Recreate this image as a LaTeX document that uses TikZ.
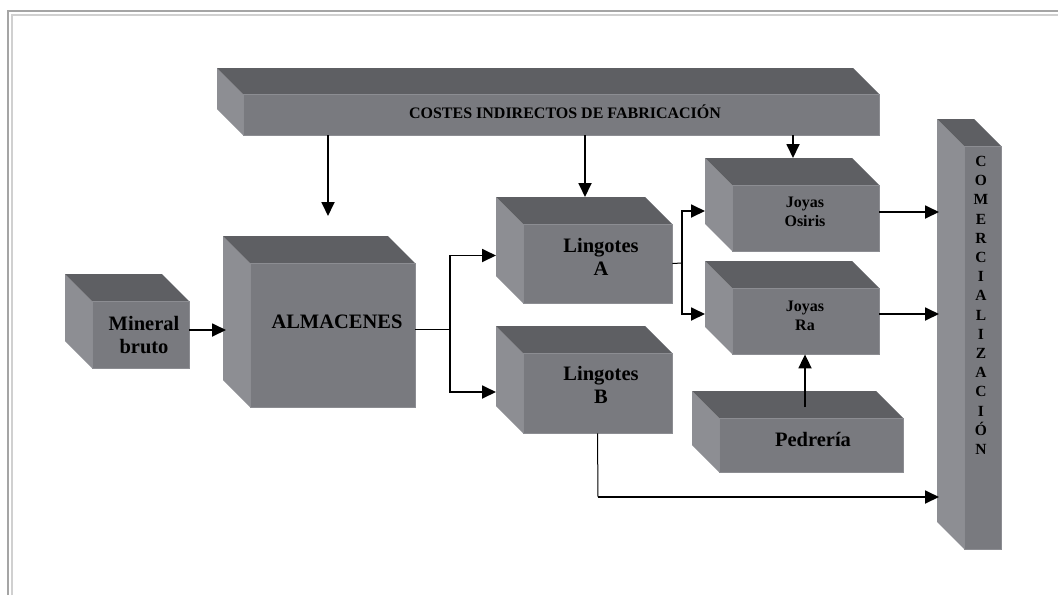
\documentclass[tikz,border=0pt]{standalone}
\usepackage{fontspec}
\setmainfont{Liberation Serif}
\usetikzlibrary{arrows.meta,fit,calc}
\definecolor{frontc}{RGB}{121,122,127}
\definecolor{frontedge}{RGB}{140,141,146}
\definecolor{topc}{RGB}{94,95,99}
\definecolor{sidec}{RGB}{141,142,147}
\definecolor{frameA}{RGB}{165,165,165}
\definecolor{frameB}{RGB}{208,208,208}
\tikzset{
  frontface/.style={fill=frontc, draw=frontedge, line width=0.8pt, inner sep=0pt},
  topface/.style={fill=topc},
  sideface/.style={fill=sidec},
  bigtxt/.style={font=\fontsize{20.5}{23}\selectfont\bfseries, align=center, inner sep=0pt},
  smalltxt/.style={font=\fontsize{16}{19.5}\selectfont\bfseries, align=center, inner sep=0pt},
  vertxt/.style={font=\fontsize{15.5}{19.2}\selectfont\bfseries, align=center, inner sep=0pt, anchor=north},
  arr/.style={draw=black, line width=1.8pt, -{Triangle[length=14pt,width=13pt]}},
  conn/.style={draw=black, line width=1pt},
}
% #1 name, #2 left, #3 top, #4 right, #5 bottom (front face), #6 depth
\newcommand\blockbox[6]{%
  \fill[sideface] (#2,#3) -- (#2-#6,#3-#6) -- (#2-#6,#5-#6) -- (#2,#5) -- cycle;
  \fill[topface] (#2,#3) -- (#2-#6,#3-#6) -- (#4-#6,#3-#6) -- (#4,#3) -- cycle;
  \coordinate (#1-back) at (#2-#6,#3-#6);
  \node[frontface, fit={(#2,#3) (#4,#5)}] (#1) {};
}
\begin{document}
\begin{tikzpicture}[x=1pt,y=-1pt]
\useasboundingbox (0,0) rectangle (1058,595);
% frame
\draw[frameA, line width=2.5pt] (8,595) -- (8,11) -- (1058,11);
\draw[frameB, line width=1.2pt] (12,595) -- (12,15) -- (1058,15);

% boxes
\blockbox{cost}{243}{94}{879}{135}{26}
\blockbox{min}{92}{301}{189}{368}{27}
\blockbox{alm}{250}{263}{415}{407}{27}
\blockbox{la}{523}{224}{672}{303}{27}
\blockbox{lb}{523}{353}{672}{433}{27}
\blockbox{jo}{732}{185}{879}{251}{27}
\blockbox{ra}{732}{288}{879}{354}{27}
\blockbox{ped}{719}{418}{903}{472}{27}
\blockbox{com}{964}{146}{1001}{549}{27}

% texts
\node[smalltxt] (costt) at (565,112) {COSTES INDIRECTOS DE FABRICACIÓN};
\node[bigtxt] (mint) at (144,335) {Mineral\\bruto};
\node[bigtxt] (almt) at (337,322) {ALMACENES};
\node[bigtxt] (lat) at (601,257) {Lingotes\\A};
\node[bigtxt] (lbt) at (601,385) {Lingotes\\B};
\node[smalltxt] (jot) at (805,212) {Joyas\\Osiris};
\node[smalltxt] (rat) at (805,316) {Joyas\\Ra};
\node[bigtxt] (pedt) at (813,439) {Pedrería};
\node[vertxt] (comt) at (981,156) {C\\O\\M\\E\\R\\C\\I\\A\\L\\I\\Z\\A\\C\\I\\Ó\\N};

% connector coordinates
\coordinate (c1) at (328,216);
\coordinate (c2) at (585,0);
\coordinate (c3) at (793,0);
\coordinate (br1) at (450,329);
\coordinate (br2) at (682,263);
\coordinate (lbturn) at (598,497);
\coordinate (pt) at (805,407);

% connectors
\draw[arr] (cost.south -| c1) -- (c1);
\draw[arr] (cost.south -| c2) -- (c2 |- la-back);
\draw[arr] (cost.south -| c3) -- (c3 |- jo-back);
\draw[arr] (min.east |- 0,330) -- ([xshift=3pt]alm-back |- 0,330);
\draw[conn] (alm.east |- br1) -- (br1);
\draw[arr] (br1) |- ([yshift=8pt]la.west -| la-back);
\draw[arr] (br1) |- ([yshift=1pt]lb.west -| lb-back);
\draw[conn] (la.east) -- (br2);
\draw[arr] (br2) |- ([yshift=7pt]jo.west -| jo-back);
\draw[arr] (br2) |- ([yshift=7pt]ra.west -| ra-back);
\draw[arr] ([yshift=6pt]jo.east) -- ([yshift=6pt,xshift=2pt]jo.east -| com-back);
\draw[arr] ([yshift=7pt]ra.east) -- ([yshift=7pt,xshift=2pt]ra.east -| com-back);
\draw[arr] (pt) -- (pt |- ra.south);
\draw[conn] (lb.south) -- (lbturn);
\draw[arr] (lbturn) -- ([xshift=2pt]lbturn -| com-back);
\end{tikzpicture}
\end{document}
